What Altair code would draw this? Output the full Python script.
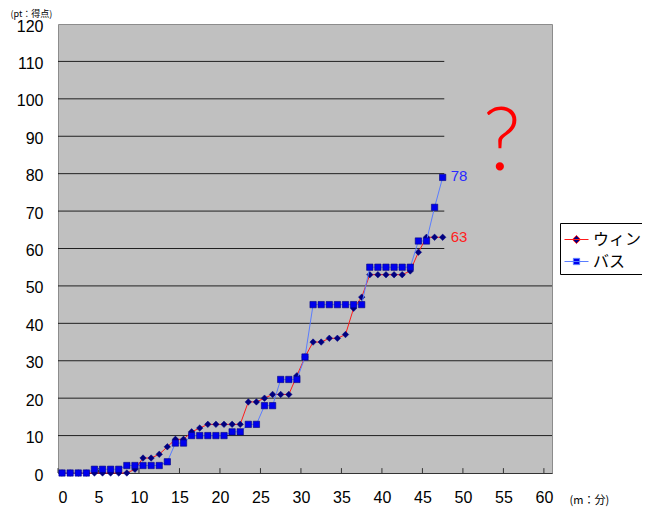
import altair as alt
import pandas as pd

# ---- data ----
minutes = [0.5, 1.5, 2.5, 3.5, 4.5, 5.5, 6.5, 7.5, 8.5, 9.5,
           10.5, 11.5, 12.5, 13.5, 14.5, 15.5, 16.5, 17.5, 18.5, 19.5,
           20.5, 21.5, 22.5, 23.5, 24.5, 25.5, 26.5, 27.5, 28.5, 29.5,
           30.5, 31.5, 32.5, 33.5, 34.5, 35.5, 36.5, 37.5, 38.5, 39.5,
           40.5, 41.5, 42.5, 43.5, 44.5, 45.5, 46.5, 47.5]
win = [0, 0, 0, 0, 0, 0, 0, 0, 0, 1,
       4, 4, 5, 7, 9, 9, 11, 12, 13, 13,
       13, 13, 13, 19, 19, 20, 21, 21, 21, 26,
       31, 35, 35, 36, 36, 37, 44, 47, 53, 53,
       53, 53, 53, 54, 59, 63, 63, 63]
bas = [0, 0, 0, 0, 1, 1, 1, 1, 2, 2,
       2, 2, 2, 3, 8, 8, 10, 10, 10, 10,
       10, 11, 11, 13, 13, 18, 18, 25, 25, 25,
       31, 45, 45, 45, 45, 45, 45, 45, 55, 55,
       55, 55, 55, 55, 62, 62, 71, 79]
series_names = ["ウィン", "バス"]
end_labels = ["63", "78"]
x_ticks = [0, 5, 10, 15, 20, 25, 30, 35, 40, 45, 50, 55, 60]
y_ticks = [0, 10, 20, 30, 40, 50, 60, 70, 80, 90, 100, 110, 120]
grid_y = [10, 20, 30, 40, 50, 60, 70, 80, 90, 100, 110]
grid_end = [61, 61, 61, 61, 61, 47.7, 47.7, 47.7, 47.7, 47.7, 47.7]
x_title = "(m：分)"
y_title = "(pt：得点)"
question = ["?"]
q_x = [54.8]
q_y = [81]

# ---- styling ----
RED = "#ff1a1a"
NAVY = "#000080"
BLUE_LINE = "#5a7dff"
BLUE_PT = "#0000ee"
FONT = "Liberation Sans"
JP = "Noto Sans CJK JP"

xs = alt.Scale(domain=[0, 61], nice=False, zero=False)
ys = alt.Scale(domain=[0, 120], nice=False)

x_axis = alt.Axis(values=x_ticks, ticks=False, grid=False, labelOverlap=False,
                  labelFont=FONT, labelFontSize=16, labelColor="black",
                  labelPadding=16, domainColor="#333333",
                  title=x_title, titleFont=JP, titleFontSize=11,
                  titleFontWeight="normal", titleColor="black",
                  titleX=511, titleY=27, titleAlign="left",
                  titleBaseline="middle")
y_axis = alt.Axis(values=y_ticks, tickCount=13, ticks=False, grid=False,
                  labelOverlap=False, labelSeparation=0,
                  labelFont=FONT, labelFontSize=16, labelColor="black",
                  labelPadding=15, labelOffset=2, domain=False,
                  title=y_title, titleFont=JP, titleFontSize=9,
                  titleFontWeight="normal", titleColor="black",
                  titleAngle=0, titleX=-48, titleY=-15,
                  titleAlign="left", titleBaseline="top")

df_win = pd.DataFrame({"x": minutes, "y": win})
df_bas = pd.DataFrame({"x": minutes, "y": bas})

X = alt.X("x:Q", scale=xs)
Y = alt.Y("y:Q", scale=ys)

grid_df = pd.DataFrame({"x": [0] * len(grid_y), "x1": grid_end, "y": grid_y})
grid = alt.Chart(grid_df).mark_rule(color="#202020", strokeWidth=1).encode(
    x=alt.X("x:Q", scale=xs, axis=x_axis),
    x2="x1:Q",
    y=alt.Y("y:Q", scale=ys, axis=y_axis),
)

tick_df = pd.DataFrame({"x": x_ticks, "y": [0] * len(x_ticks), "y1": [1.3] * len(x_ticks)})
ticks = alt.Chart(tick_df).mark_rule(color="#333333", strokeWidth=1).encode(
    x=X, y=Y, y2="y1:Q",
)

win_line = alt.Chart(df_win).mark_line(color=RED, strokeWidth=1).encode(x=X, y=Y)
win_pts = alt.Chart(df_win).mark_point(shape="diamond", filled=True, fill=NAVY,
                                       stroke=NAVY, strokeWidth=0.5, size=42,
                                       opacity=1).encode(x=X, y=Y)
bas_line = alt.Chart(df_bas).mark_line(color=BLUE_LINE, strokeWidth=1).encode(x=X, y=Y)
bas_pts = alt.Chart(df_bas).mark_point(shape="square", filled=True, fill=BLUE_PT,
                                       stroke=NAVY, strokeWidth=0.6, size=40,
                                       opacity=1).encode(x=X, y=Y)

win_lab_df = pd.DataFrame({"x": [minutes[-1]], "y": [win[-1]], "t": [end_labels[0]]})
bas_lab_df = pd.DataFrame({"x": [minutes[-1]], "y": [bas[-1]], "t": [end_labels[1]]})
win_lab = alt.Chart(win_lab_df).mark_text(align="left", baseline="middle", dx=8,
                                          font=FONT, fontSize=15,
                                          color="#ff2020").encode(x=X, y=Y, text="t:N")
bas_lab = alt.Chart(bas_lab_df).mark_text(align="left", baseline="middle", dx=8, dy=-1,
                                          font=FONT, fontSize=15,
                                          color="#2a2aff").encode(x=X, y=Y, text="t:N")

q_df = pd.DataFrame({"x": q_x, "y": q_y, "t": question})
qmark = alt.Chart(q_df).mark_text(align="center", baseline="alphabetic",
                                  font="Lato", fontWeight=300, fontSize=88,
                                  color="#ff0000").encode(x=X, y=Y, text="t:N")

# legend-only layer: line + marker symbols via custom paths
DIAMOND_SYM = "M-1,0L1,0M0,-0.34L0.34,0L0,0.34L-0.34,0Z"
SQUARE_SYM = "M-1,0L1,0M-0.26,-0.26L0.26,-0.26L0.26,0.26L-0.26,0.26Z"
leg = alt.Legend(title=None, orient="none", legendX=502, legendY=199,
                 strokeColor="black", fillColor="white", padding=4,
                 labelFont=JP, labelFontSize=16, labelColor="black",
                 labelOffset=4, rowPadding=1, symbolSize=576,
                 symbolStrokeWidth=1, symbolOpacity=1)
leg_df = pd.DataFrame({"x": [minutes[0], minutes[0]], "y": [0, 0], "series": series_names})
legend_layer = alt.Chart(leg_df).mark_point(opacity=0, filled=True).encode(
    x=X, y=Y,
    shape=alt.Shape("series:N", scale=alt.Scale(domain=series_names,
                                                range=[DIAMOND_SYM, SQUARE_SYM]),
                    legend=leg),
    fill=alt.Fill("series:N", scale=alt.Scale(domain=series_names,
                                              range=[NAVY, BLUE_PT]),
                  legend=leg),
    stroke=alt.Stroke("series:N", scale=alt.Scale(domain=series_names,
                                                  range=[RED, BLUE_LINE]),
                      legend=leg),
)

chart = alt.layer(grid, ticks, win_line, win_pts, bas_line, bas_pts,
                  win_lab, bas_lab, qmark, legend_layer).properties(
    width=494, height=449,
    autosize=alt.AutoSizeParams(type="none"),
    padding={"left": 50, "top": 16, "right": 90, "bottom": 41},
    background="white",
).configure_view(fill="#c0c0c0", stroke="#8c8c8c", strokeWidth=1
).configure_axis(labelOverlap=False)

chart.save("out.html", embed_options={"renderer": "svg", "actions": False})
